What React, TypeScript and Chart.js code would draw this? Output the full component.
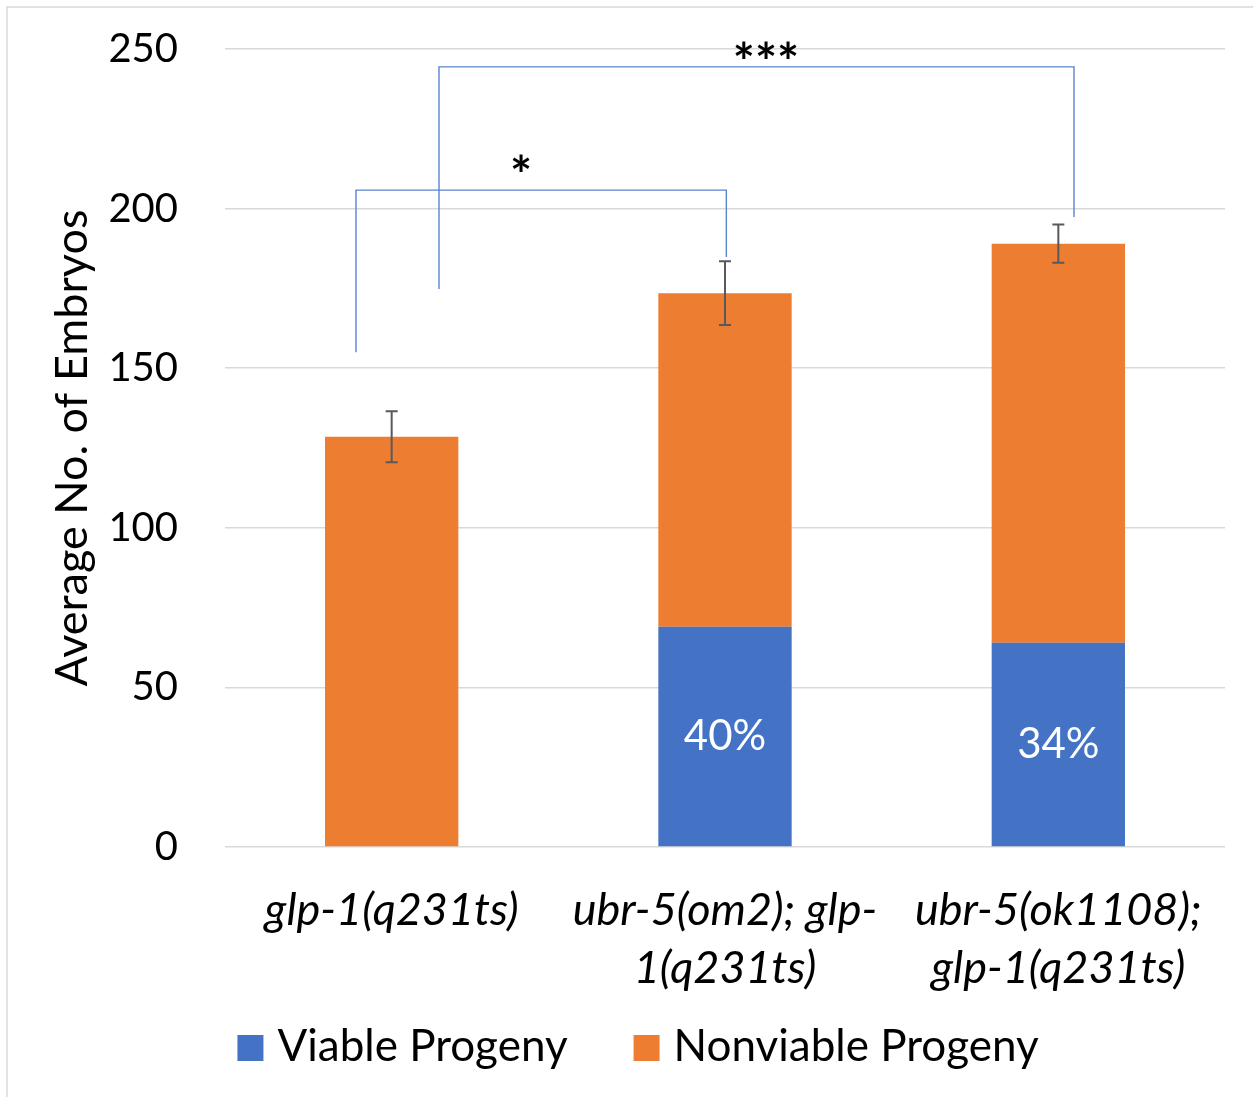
import React, { useEffect, useRef } from "react";
import { Chart, registerables } from "chart.js";

Chart.register(...registerables);

// ---- data ----
const categories: string[][] = [
  ["glp-1(q231ts)"],
  ["ubr-5(om2); glp-", "1(q231ts)"],
  ["ubr-5(ok1108);", "glp-1(q231ts)"],
];
const seriesNames = ["Viable Progeny", "Nonviable Progeny"];
const viable = [0, 69, 64];
const nonviable = [128.5, 104.5, 125];
const errors = [8, 10, 6];
const viableLabels = ["", "40%", "34%"];
const yMin = 0;
const yMax = 250;
const yStep = 50;

// significance brackets (x in category-index units, y in data units)
const bracketFrom = [-0.107, 0.142];
const bracketTo = [1.004, 2.047];
const bracketLeftBottom = [155, 174.8];
const bracketRightBottom = [184.8, 197.4];
const bracketTop = [205.8, 244.4];
const bracketLabels = ["*", "***"];
const bracketLabelX = [0.388, 1.123];
const bracketLabelY = [214.3, 249.8];

const FONT = "Lato, 'DejaVu Sans', sans-serif";
const BLUE = "#4472C4";
const ORANGE = "#ED7D31";

// legend layout
const LEGEND_CENTER_X = 638;
const LEGEND_Y = 1047;
const LEGEND_BOX = 26;
const LEGEND_BOX_GAP = 14;
const LEGEND_ITEM_GAP = 66;

const overlayPlugin = {
  id: "overlay",
  beforeDraw(chart: any) {
    const ctx = chart.ctx;
    ctx.save();
    ctx.fillStyle = "#ffffff";
    ctx.fillRect(0, 0, chart.width, chart.height);
    ctx.strokeStyle = "#d9d9d9";
    ctx.lineWidth = 1.5;
    ctx.strokeRect(7, 7, chart.width + 20, chart.height + 20);
    ctx.restore();
  },
  afterDatasetsDraw(chart: any) {
    const ctx = chart.ctx;
    const xs = chart.scales.x;
    const ys = chart.scales.y;
    ctx.save();

    // data labels in viable segments
    const meta = chart.getDatasetMeta(0);
    ctx.fillStyle = "#ffffff";
    ctx.font = `42px ${FONT}`;
    ctx.textAlign = "center";
    ctx.textBaseline = "middle";
    meta.data.forEach((el: any, i: number) => {
      const t = viableLabels[i];
      if (!t) return;
      const p = el.getProps(["x", "y", "base"], true);
      ctx.fillText(t, p.x, (p.y + p.base) / 2);
    });

    // error bars
    ctx.strokeStyle = "#595959";
    ctx.lineWidth = 2;
    categories.forEach((_, i) => {
      const total = viable[i] + nonviable[i];
      const px = xs.getPixelForValue(i);
      const yT = ys.getPixelForValue(total + errors[i]);
      const yB = ys.getPixelForValue(total - errors[i]);
      ctx.beginPath();
      ctx.moveTo(px, yT);
      ctx.lineTo(px, yB);
      ctx.moveTo(px - 6, yT);
      ctx.lineTo(px + 6, yT);
      ctx.moveTo(px - 6, yB);
      ctx.lineTo(px + 6, yB);
      ctx.stroke();
    });

    // brackets
    ctx.strokeStyle = "#5b84d0";
    ctx.lineWidth = 1.4;
    bracketFrom.forEach((_, i) => {
      const x1 = xs.getPixelForValue(bracketFrom[i]);
      const x2 = xs.getPixelForValue(bracketTo[i]);
      const yl = ys.getPixelForValue(bracketLeftBottom[i]);
      const yr = ys.getPixelForValue(bracketRightBottom[i]);
      const yt = ys.getPixelForValue(bracketTop[i]);
      ctx.beginPath();
      ctx.moveTo(x1, yl);
      ctx.lineTo(x1, yt);
      ctx.lineTo(x2, yt);
      ctx.lineTo(x2, yr);
      ctx.stroke();
    });

    // bracket labels
    ctx.fillStyle = "#000000";
    ctx.font = `bold 52px ${FONT}`;
    ctx.textAlign = "center";
    ctx.textBaseline = "alphabetic";
    bracketLabels.forEach((t, i) => {
      const px = xs.getPixelForValue(bracketLabelX[i]);
      const py = ys.getPixelForValue(bracketLabelY[i]);
      const m = ctx.measureText(t);
      const base = py + (m.actualBoundingBoxAscent - m.actualBoundingBoxDescent) / 2;
      ctx.fillText(t, px, base);
    });

    ctx.restore();
  },
  afterDraw(chart: any) {
    // legend (drawn from the datasets)
    const ctx = chart.ctx;
    ctx.save();
    ctx.font = `44px ${FONT}`;
    ctx.textBaseline = "middle";
    ctx.textAlign = "left";
    const ds = chart.data.datasets;
    const widths = ds.map((d: any) => LEGEND_BOX + LEGEND_BOX_GAP + ctx.measureText(d.label).width);
    const total = widths.reduce((a: number, b: number) => a + b, 0) + LEGEND_ITEM_GAP * (ds.length - 1);
    let x = LEGEND_CENTER_X - total / 2;
    ds.forEach((d: any, i: number) => {
      ctx.fillStyle = d.backgroundColor;
      ctx.fillRect(x, LEGEND_Y - LEGEND_BOX / 2 + 1, LEGEND_BOX, LEGEND_BOX);
      ctx.fillStyle = "#000000";
      ctx.fillText(d.label, x + LEGEND_BOX + LEGEND_BOX_GAP, LEGEND_Y);
      x += widths[i] + LEGEND_ITEM_GAP;
    });
    ctx.restore();
  },
};

export default function App() {
  const ref = useRef<HTMLCanvasElement | null>(null);

  useEffect(() => {
    if (!ref.current) return;
    const chart = new Chart(ref.current, {
      type: "bar",
      data: {
        labels: categories,
        datasets: [
          {
            label: seriesNames[0],
            data: viable,
            backgroundColor: BLUE,
            borderWidth: 0,
            barPercentage: 0.4,
            categoryPercentage: 1.0,
          },
          {
            label: seriesNames[1],
            data: nonviable,
            backgroundColor: ORANGE,
            borderWidth: 0,
            barPercentage: 0.4,
            categoryPercentage: 1.0,
          },
        ],
      },
      options: {
        responsive: false,
        animation: false,
        devicePixelRatio: 1,
        layout: { padding: { left: 24, right: 0, top: 49, bottom: 100 } },
        plugins: {
          legend: { display: false },
          tooltip: { enabled: false },
          title: { display: false },
        },
        scales: {
          x: {
            stacked: true,
            grid: { display: false },
            border: { display: false },
            ticks: {
              color: "#000000",
              padding: 26,
              maxRotation: 0,
              minRotation: 0,
              autoSkip: false,
              font: { family: FONT, size: 45, style: "italic", lineHeight: 1.29 },
            },
            afterFit(s: any) {
              s.height = 150;
            },
          },
          y: {
            stacked: true,
            min: yMin,
            max: yMax,
            ticks: {
              stepSize: yStep,
              color: "#000000",
              padding: 0,
              font: { family: FONT, size: 40 },
            },
            grid: {
              color: "#d9d9d9",
              lineWidth: 1.5,
              drawTicks: true,
              tickLength: 47,
              tickColor: "rgba(0,0,0,0)",
            },
            border: { display: false },
            title: {
              display: true,
              text: "Average No. of Embryos",
              color: "#000000",
              padding: { top: 21, bottom: 0 },
              font: { family: FONT, size: 45 },
            },
            afterFit(s: any) {
              s.width = 201;
            },
          },
          y2: {
            position: "right",
            display: true,
            grid: { display: false },
            border: { display: false },
            ticks: { display: false },
            afterFit(s: any) {
              s.width = 28;
            },
          },
        },
      },
      plugins: [overlayPlugin],
    } as any);
    return () => chart.destroy();
  }, []);

  return (
    <div style={{ position: "fixed", left: 0, top: 0, width: 1253, height: 1097 }}>
      <canvas ref={ref} width={1253} height={1097} style={{ width: 1253, height: 1097, display: "block" }} />
    </div>
  );
}
